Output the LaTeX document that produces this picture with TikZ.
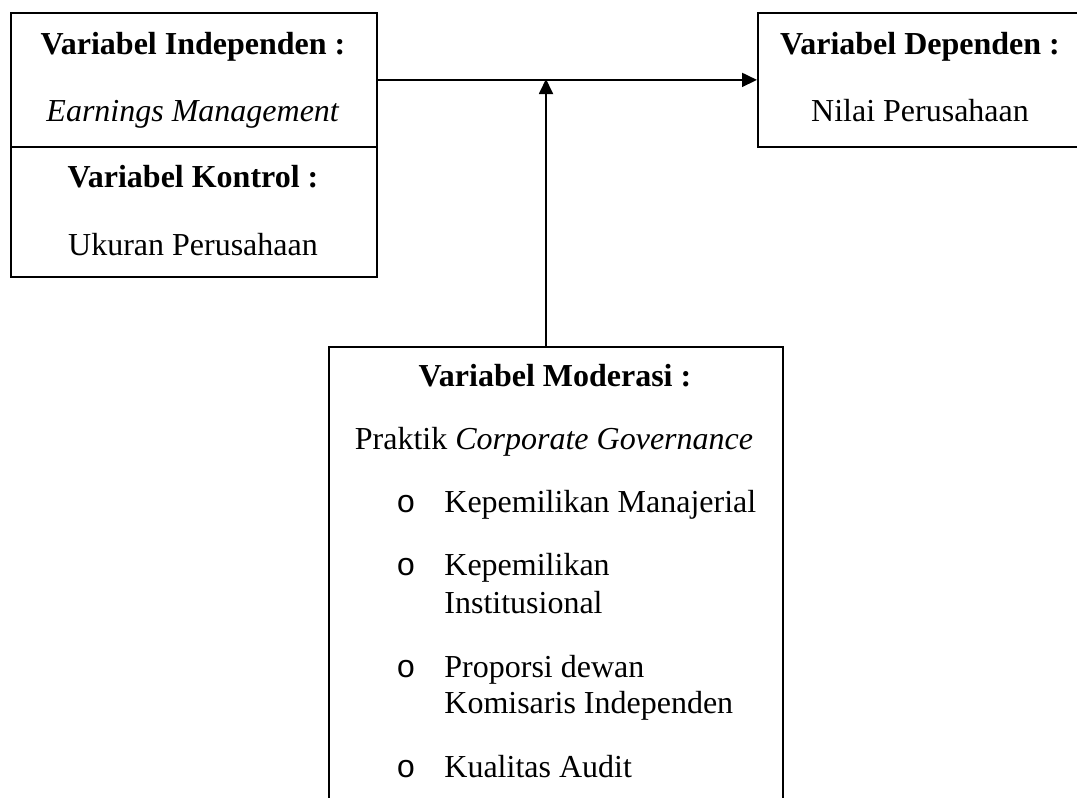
\documentclass[tikz,border=0pt]{standalone}
\usepackage{fontspec}
\setmainfont{Liberation Serif}
\newfontfamily\bulletfont{Liberation Mono}
\usetikzlibrary{arrows.meta}
\tikzset{
    >={Triangle[length=7.5pt,width=7pt]}, % Default arrow tip
    box/.style={draw, line width=0.9pt, anchor=north west, inner sep=0pt},
    txt/.style={font=\fontsize{16}{18.5}\selectfont, inner sep=0pt, anchor=base},
    item/.style={txt, anchor=base west},
    bullet/.style={font=\fontsize{16}{18.5}\bulletfont, inner sep=0pt, anchor=base}
}

\begin{document}
\begin{tikzpicture}[x=0.5pt, y=-0.5pt]
    \useasboundingbox (0,0) rectangle (1077,798);
    \clip (0,0) rectangle (1077,798);
    % boxes
    \draw
        node[box, minimum width=183pt, minimum height=67pt] (indep) at (10,12) {}
        node[box, minimum width=183pt, minimum height=65pt] (kontrol) at (10,146) {}
        node[box, minimum width=175pt, minimum height=67pt] (dep) at (757,12) {}
        node[box, minimum width=227pt, minimum height=250pt] (moder) at (328,346) {}
    ;
    % texts
    \draw
        node[txt] (indepT) at (193,54) {\textbf{Variabel Independen :}}
        node[txt] (indepS) at (193,121) {\textit{Earnings Management}}
        node[txt] (kontrolT) at (193,187) {\textbf{Variabel Kontrol :}}
        node[txt] (kontrolS) at (193,255) {Ukuran Perusahaan}
        node[txt] (depT) at (920,54) {\textbf{Variabel Dependen :}}
        node[txt] (depS) at (920,121) {Nilai Perusahaan}
        node[txt] (moderT) at (555,386) {\textbf{Variabel Moderasi :}}
        node[txt] (moderS) at (554,449) {Praktik \textit{Corporate Governance}}
    ;
    \foreach \y/\name in {512/b1, 575/b2, 677/b3, 777/b4}
        \node[bullet] (\name) at (406,\y) {o};
    \draw
        node[item] (item1) at (444,512) {Kepemilikan Manajerial}
        node[item] (item2) at (444,575) {Kepemilikan}
        node[item] (item2b) at (444,613) {Institusional}
        node[item] (item3) at (444,677) {Proporsi dewan}
        node[item] (item3b) at (444,713) {Komisaris Independen}
        node[item] (item4) at (444,777) {Kualitas Audit}
    ;
    % arrows
    \coordinate (mid) at (546,79);
    \draw
        [->, line width=0.9pt]
        (indep.east) -- (indep.east -| dep.west)
    ;
    \draw
        [->, line width=0.9pt]
        (moder.north -| mid) -- (mid)
    ;
\end{tikzpicture}
\end{document}
